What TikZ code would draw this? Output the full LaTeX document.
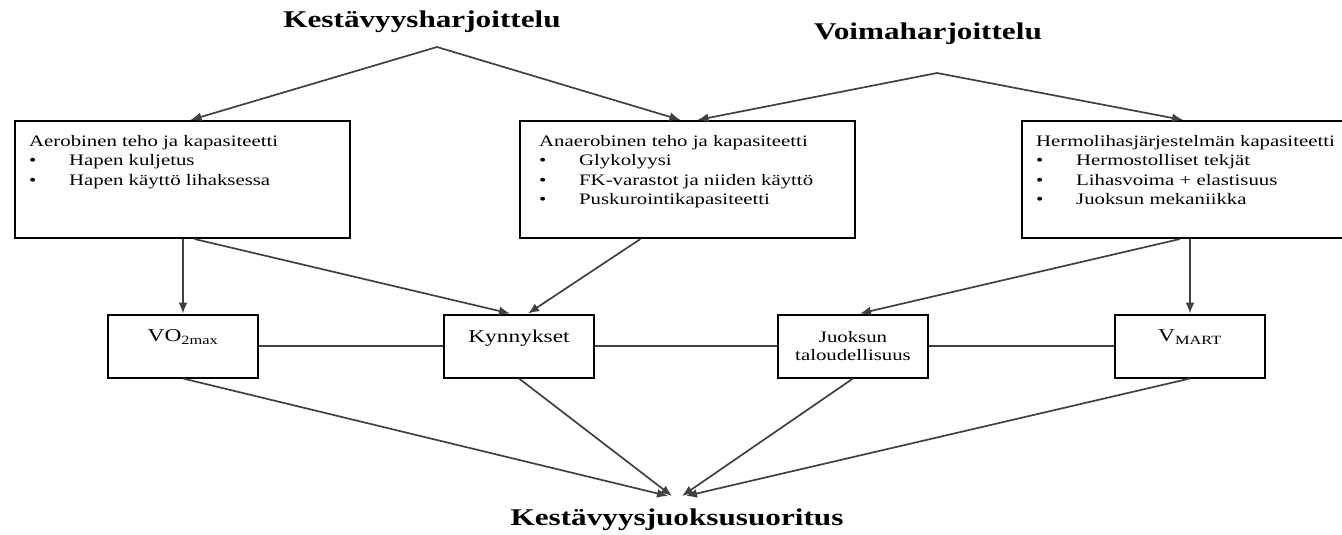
\documentclass[tikz,border=0pt]{standalone}
\usepackage{fontspec}
\setmainfont[FakeStretch=1.3]{Liberation Serif}
\usetikzlibrary{arrows.meta}

\newcommand{\listdot}{\makebox[40pt][l]{\textbullet}}

\begin{document}
\begin{tikzpicture}[x=1pt,y=-1pt,
	title/.style={font=\fontsize{24}{28}\selectfont\bfseries},
	bigbox/.style={draw, line width=2pt, minimum height=117pt, inner sep=0pt},
	boxtext/.style={inner sep=0pt, align=left, font=\fontsize{16}{19.5}\selectfont},
	lowbox/.style={draw, line width=2pt, minimum width=150pt, minimum height=63pt, inner sep=0pt, font=\fontsize{18}{20}\selectfont},
	raised/.style={text depth=20pt},
	link/.style={draw=black!75, line width=1.7pt},
	arr/.style={link, -{Latex[length=11pt,width=9pt]}}]
	\useasboundingbox (0,0) rectangle (1342,535);
	% titles
	\node[title] (endurance) at (422,22) {Kestävyysharjoittelu};
	\node[title] (strength) at (928,34) {Voimaharjoittelu};
	\node[title] (result) at (677,520) {Kestävyysjuoksusuoritus};
	\coordinate (endsplit) at (437,47);
	\coordinate (strsplit) at (937,73);
	\coordinate (goal) at (677,496);
	% upper boxes
	\node[bigbox, minimum width=335pt] (aero) at (182.5,179.5) {};
	\node[bigbox, minimum width=335pt] (anaero) at (687.5,179.5) {};
	\node[bigbox, minimum width=340pt] (neuro) at (1192,179.5) {};
	\node[boxtext, anchor=north west] (aerotxt) at ([shift={(15,15)}]aero.north west)
		{Aerobinen teho ja kapasiteetti\\
		\listdot Hapen kuljetus\\
		\listdot Hapen käyttö lihaksessa};
	\node[boxtext, anchor=north west] (anaerotxt) at ([shift={(20,15)}]anaero.north west)
		{Anaerobinen teho ja kapasiteetti\\
		\listdot Glykolyysi\\
		\listdot FK-varastot ja niiden käyttö\\
		\listdot Puskurointikapasiteetti};
	\node[boxtext, anchor=north west] (neurotxt) at ([shift={(15,15)}]neuro.north west)
		{Hermolihasjärjestelmän kapasiteetti\\
		\listdot Hermostolliset tekjät\\
		\listdot Lihasvoima + elastisuus\\
		\listdot Juoksun mekaniikka};
	% lower boxes
	\node[lowbox, raised] (vo2) at (183,346) {VO\textsubscript{2max}};
	\node[lowbox, raised] (kyn) at (519,346) {Kynnykset};
	\node[lowbox, align=center, font=\fontsize{16}{18}\selectfont] (juok) at (853,346) {Juoksun\\taloudellisuus};
	\node[lowbox, raised] (vmart) at (1190,346) {V\textsubscript{MART}};
	\draw[link] (vo2) -- (kyn);
	\draw[link] (kyn) -- (juok);
	\draw[link] (juok) -- (vmart);
	% training to capacities
	\draw[arr] (endsplit) -- ([xshift=8]aero.north);
	\draw[arr] (endsplit) -- ([xshift=-7]anaero.north);
	\draw[arr] (strsplit) -- ([xshift=10]anaero.north);
	\draw[arr] (strsplit) -- ([xshift=-9]neuro.north);
	% capacities to factors
	\draw[arr] (vo2.north |- aero.south) -- (vo2.north);
	\draw[arr] ([xshift=12]aero.south) -- ([xshift=-9]kyn.north);
	\draw[arr] ([xshift=-47]anaero.south) -- ([xshift=9]kyn.north);
	\draw[arr] ([xshift=-12]neuro.south) -- ([xshift=7]juok.north);
	\draw[arr] (vmart.north |- neuro.south) -- (vmart.north);
	% factors to performance
	\draw[arr] (vo2.south) -- ([xshift=-9]goal);
	\draw[arr] (kyn.south) -- ([xshift=-5]goal);
	\draw[arr] (juok.south) -- ([xshift=5]goal);
	\draw[arr] (vmart.south) -- ([xshift=9]goal);
\end{tikzpicture}
\end{document}
